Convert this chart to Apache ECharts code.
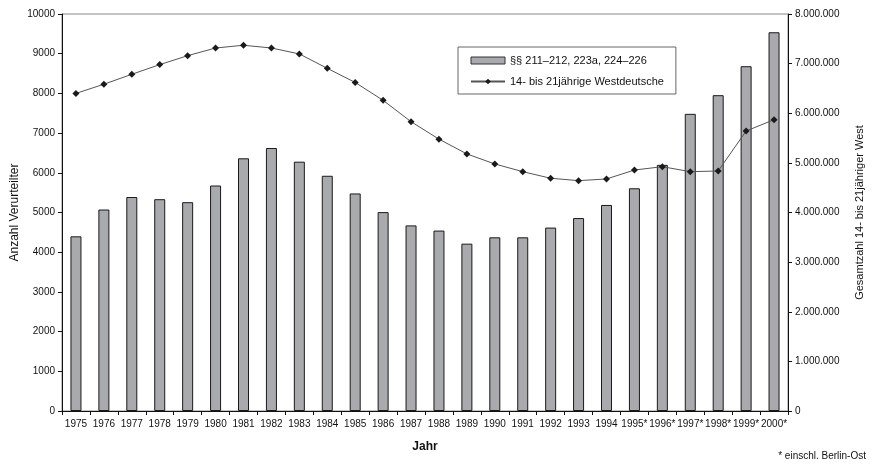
<!DOCTYPE html>
<html>
<head>
<meta charset="utf-8">
<script src="https://cdn.jsdelivr.net/npm/echarts@6/dist/echarts.min.js"></script>
<style>
  html, body { margin: 0; padding: 0; background: #fff; }
  #chart { width: 872px; height: 465px; }
</style>
</head>
<body>
<div id="chart"></div>
<script>
var years = ['1975', '1976', '1977', '1978', '1979', '1980', '1981', '1982', '1983', '1984', '1985', '1986', '1987',
  '1988', '1989', '1990', '1991', '1992', '1993', '1994', '1995*', '1996*', '1997*', '1998*', '1999*', '2000*'];
// Verurteilte nach §§ 211-212, 223a, 224-226
var convicted = [4400, 5075, 5390, 5335, 5260, 5680, 6365, 6625, 6280, 5925, 5480, 5010, 4675,
  4545, 4215, 4375, 4375, 4620, 4860, 5190, 5610, 6200, 7485, 7955, 8685, 9540];
// 14- bis 21jährige Westdeutsche
var youth = [6400000, 6585000, 6785000, 6980000, 7160000, 7315000, 7370000, 7315000, 7195000, 6905000, 6620000, 6260000, 5830000,
  5478000, 5180000, 4978000, 4823000, 4690000, 4642000, 4676000, 4856000, 4923000, 4823000, 4836000, 5642000, 5870000];
var leftTicks = [0, 10000, 1000];
var rightTicks = [0, 8000000, 1000000];

var fontName = '"Liberation Sans", Arial, sans-serif';

function fmtDots(v) {
  return String(v).replace(/\B(?=(\d{3})+(?!\d))/g, '.');
}

var myChart = echarts.init(document.getElementById('chart'));
var option = {
  animation: false,
  textStyle: { fontFamily: fontName, color: '#111' },
  grid: {
    left: 62, right: 84, top: 14, bottom: 54,
    outerBoundsMode: 'none', containLabel: false,
    show: true, borderColor: '#888', borderWidth: 1
  },
  legend: {
    orient: 'vertical',
    left: 458,
    top: 47,
    padding: [8, 12, 7, 12],
    itemGap: 10,
    itemWidth: 34,
    itemHeight: 7,
    borderColor: '#666',
    borderWidth: 1,
    textStyle: { fontFamily: fontName, fontSize: 11, color: '#111' },
    data: [
      { name: '§§ 211–212, 223a, 224–226', icon: 'rect', itemStyle: { borderWidth: 1, borderColor: '#333' } },
      { name: '14- bis 21jährige Westdeutsche' }
    ]
  },
  xAxis: {
    type: 'category',
    data: years,
    name: 'Jahr',
    nameLocation: 'middle',
    nameGap: 30,
    nameTextStyle: { fontFamily: fontName, fontSize: 12, fontWeight: 'bold', color: '#111' },
    axisLine: { lineStyle: { color: '#111', width: 1 } },
    axisTick: { show: true, alignWithLabel: false, length: 4, lineStyle: { color: '#111' } },
    axisLabel: { fontFamily: fontName, fontSize: 10, color: '#111', interval: 0, margin: 8 },
    splitLine: { show: false }
  },
  yAxis: [{
    type: 'value',
    min: leftTicks[0],
    max: leftTicks[1],
    interval: leftTicks[2],
    name: 'Anzahl Verurteilter',
    nameLocation: 'middle',
    nameGap: 41,
    nameMoveOverlap: false,
    nameTextStyle: { fontFamily: fontName, fontSize: 12, color: '#111' },
    axisLine: { show: true, lineStyle: { color: '#111', width: 1 } },
    axisTick: { show: true, length: 4, lineStyle: { color: '#111' } },
    axisLabel: { fontFamily: fontName, fontSize: 10, color: '#111', margin: 7, formatter: function (v) { return String(v); } },
    splitLine: { show: false }
  }, {
    type: 'value',
    position: 'right',
    min: rightTicks[0],
    max: rightTicks[1],
    interval: rightTicks[2],
    name: 'Gesamtzahl 14- bis 21jähriger West',
    nameLocation: 'middle',
    nameGap: 66,
    nameRotate: 90,
    nameMoveOverlap: false,
    nameTextStyle: { fontFamily: fontName, fontSize: 11, color: '#111' },
    axisLine: { show: true, lineStyle: { color: '#111', width: 1 } },
    axisTick: { show: true, length: 4, lineStyle: { color: '#111' } },
    axisLabel: { fontFamily: fontName, fontSize: 10, color: '#111', margin: 7, formatter: fmtDots },
    splitLine: { show: false }
  }],
  series: [{
    name: '§§ 211–212, 223a, 224–226',
    type: 'bar',
    barWidth: 11,
    itemStyle: { color: '#a9aaae', borderColor: '#1a1a1a', borderWidth: 1 },
    data: convicted
  }, {
    name: '14- bis 21jährige Westdeutsche',
    type: 'line',
    yAxisIndex: 1,
    symbol: 'diamond',
    symbolSize: 7,
    lineStyle: { color: '#555', width: 1 },
    itemStyle: { color: '#1a1a1a' },
    data: youth
  }],
  graphic: [{
    type: 'text',
    right: 6,
    top: 451,
    style: { text: '* einschl. Berlin-Ost', font: '10px ' + fontName, fill: '#111' }
  }]
};
myChart.setOption(option, true);
window.addEventListener('resize', function () {
  myChart.resize();
});
</script>
</body>
</html>
